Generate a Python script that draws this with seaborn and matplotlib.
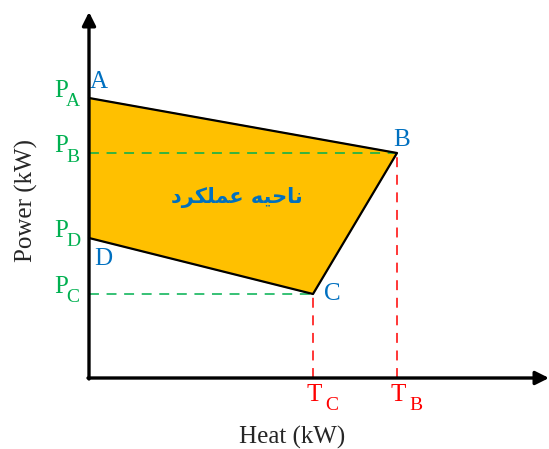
import pandas as pd
import matplotlib.pyplot as plt
import seaborn as sns

# operating region vertices (A, B, C, D)
points = ["A", "B", "C", "D"]
heat = [0, 308, 224, 0]
power = [280, 225, 84, 140]

power_ticks = ["A", "B", "D", "C"]
heat_ticks = ["C", "B"]
region_label = "ناحیه عملکرد"

sns.set_theme(style="white")
plt.rcParams["font.family"] = ["Liberation Serif", "DejaVu Sans"]

BLUE = "#0070C0"
GREEN = "#00B050"
RED = "#FF0000"
FILL = "#FFC000"


def shape_persian(text):
    """Ручная сборка контекстных форм, т.к. matplotlib не умеет shaping."""
    forms = {
        "ناحیه": "\uFEE7\uFE8E\uFEA3\uFEF4\uFEEA",
        "عملکرد": "\uFECB\uFEE4\uFEE0\uFB91\uFEAE\uFEA9",
    }
    words = [forms.get(w, w) for w in text.split(" ")]
    return " ".join(words)[::-1]


def sub_label(ax, xy, main, sub, main_off, sub_off, color):
    ax.annotate(main, xy, xytext=main_off, textcoords="offset pixels",
                ha="center", va="center", color=color, fontsize=18)
    ax.annotate(sub, xy, xytext=sub_off, textcoords="offset pixels",
                ha="center", va="center", color=color, fontsize=14)


df = pd.DataFrame({"point": points, "heat": heat, "power": power})
pos = df.set_index("point")

fig = plt.figure(figsize=(5.49, 4.49), dpi=100)
ax = fig.add_axes([0, 0, 1, 1])
ax.set_xlim(-89, 460)
ax.set_ylim(-71, 378)
ax.axis("off")

# region
ax.fill(df["heat"], df["power"], color=FILL, zorder=1)
sns.lineplot(data=df, x="heat", y="power", sort=False, estimator=None,
             color="black", lw=1.6, ax=ax, zorder=3)

# guide lines
dash = (0, (6.5, 5))
for p in ["B", "C"]:
    ax.plot([0, pos.loc[p, "heat"]], [pos.loc[p, "power"]] * 2, color=GREEN,
            lw=1.1, linestyle=dash, zorder=2)
    ax.plot([pos.loc[p, "heat"]] * 2, [0, pos.loc[p, "power"]], color=RED,
            lw=1.1, linestyle=dash, zorder=2)

# axes with arrows
ax.annotate("", xy=(460, 0), xytext=(-1, 0),
            arrowprops=dict(arrowstyle="-|>", lw=2.4, color="black",
                            mutation_scale=20, shrinkA=0, shrinkB=0), zorder=5)
ax.annotate("", xy=(0, 366), xytext=(0, -1),
            arrowprops=dict(arrowstyle="-|>", lw=2.4, color="black",
                            mutation_scale=20, shrinkA=0, shrinkB=0), zorder=5)

# vertex labels
offsets = {"A": (10, 16), "B": (5, 13), "C": (19, 0), "D": (14, -21)}
for p in points:
    ax.annotate(p, (pos.loc[p, "heat"], pos.loc[p, "power"]),
                xytext=offsets[p], textcoords="offset pixels",
                ha="center", va="center", color=BLUE, fontsize=18)

# power ticks
for p in power_ticks:
    sub_label(ax, (0, pos.loc[p, "power"]), "P", p, (-28, 7), (-16, -4), GREEN)

# heat ticks
for p in heat_ticks:
    sub_label(ax, (pos.loc[p, "heat"], 0), "T", p, (1, -17), (19, -28), RED)

ax.text(148, 180, shape_persian(region_label), family="DejaVu Sans",
        fontweight="bold", color=BLUE, fontsize=15, ha="center", va="center")

ax.text(203, -59, "Heat (kW)", ha="center", va="center", fontsize=18)
ax.text(-63, 178, "Power (kW)", ha="center", va="center", rotation=90,
        fontsize=18)

fig.savefig("out.png", dpi=100)
